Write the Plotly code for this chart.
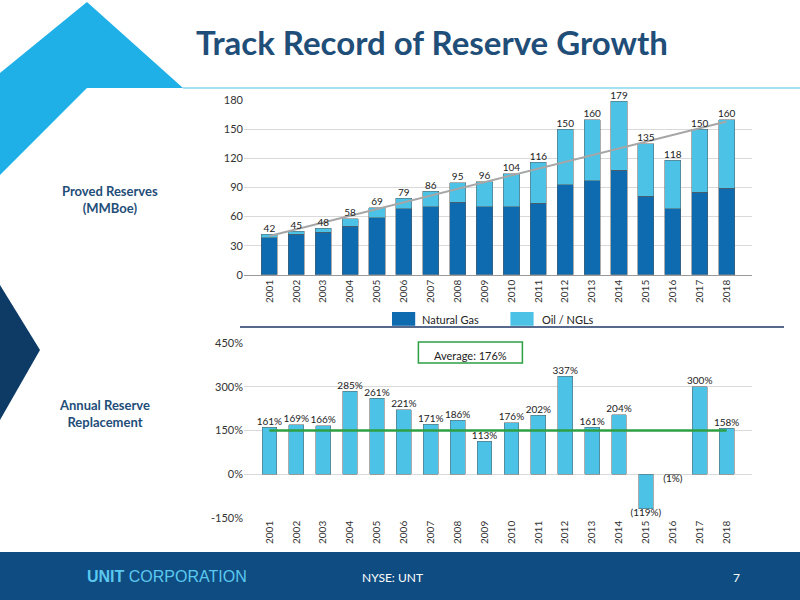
import plotly.graph_objects as go

years = [str(y) for y in range(2001, 2019)]
totals = [42, 45, 48, 58, 69, 79, 86, 95, 96, 104, 116, 150, 160, 179, 135, 118, 150, 160]
gas = [38, 42, 44, 50, 59, 68, 70, 75, 70, 70, 74, 93, 97, 108, 81, 68, 85, 89]
oil = [t - g for t, g in zip(totals, gas)]
trend_x = ["2001", "2018"]
trend_y = [40, 158]
replacement = [161, 169, 166, 285, 261, 221, 171, 186, 113, 176, 202, 337, 161, 204, -119, -1, 300, 158]
rep_labels = ["161%", "169%", "166%", "285%", "261%", "221%", "171%", "186%", "113%", "176%",
              "202%", "337%", "161%", "204%", "(119%)", "(1%)", "300%", "158%"]
avg_line = 150

DARK = "#0E6BB0"
LIGHT = "#4CC3E6"
NAVY = "#1F4E79"
FONT = "Lato"


def px_path(points):
    # pixel coords (800x600) -> paper path
    parts = [f"{x / 800:.4f} {1 - y / 600:.4f}" for x, y in points]
    return "M " + " L ".join(parts) + " Z"


def note(text, x, y, size, color, family=FONT, xanchor="center"):
    return dict(text=text, x=x / 800, y=1 - y / 600, xref="paper", yref="paper",
                xanchor=xanchor, yanchor="middle", showarrow=False, align="center",
                font=dict(size=size, color=color, family=family))


fig = go.Figure()
fig.add_trace(go.Bar(x=years, y=gas, marker_color=DARK, width=0.6,
                     marker_line=dict(color="#5a5a5a", width=0.5)))
fig.add_trace(go.Bar(x=years, y=oil, marker_color=LIGHT, width=0.6,
                     marker_line=dict(color="#5a5a5a", width=0.5)))
fig.add_trace(go.Scatter(x=trend_x, y=trend_y, mode="lines", line=dict(color="#A6A6A6", width=2),
                         hoverinfo="skip"))
fig.add_trace(go.Scatter(x=years, y=totals, mode="text", text=[str(t) for t in totals],
                         textposition="top center", cliponaxis=False,
                         textfont=dict(size=10, color="#222", family=FONT)))

fig.add_trace(go.Bar(x=years, y=replacement, marker_color=LIGHT, width=0.55,
                     marker_line=dict(color="#5a5a5a", width=0.5),
                     xaxis="x2", yaxis="y2"))
fig.add_trace(go.Scatter(x=[years[0], years[-1]], y=[avg_line, avg_line], mode="lines",
                         line=dict(color="#2EA043", width=2.5), xaxis="x2", yaxis="y2"))
fig.add_trace(go.Scatter(x=years, y=replacement, mode="text", text=rep_labels,
                         textposition=["top center" if v > 0 else "bottom center" for v in replacement],
                         cliponaxis=False, textfont=dict(size=10, color="#222", family=FONT),
                         xaxis="x2", yaxis="y2"))

fig.update_layout(
    width=800, height=600, margin=dict(l=0, r=0, t=0, b=0, autoexpand=False), showlegend=False,
    paper_bgcolor="white", plot_bgcolor="white", barmode="stack",
    font=dict(family=FONT, color="#333"),
    xaxis=dict(domain=[0.305, 0.94], anchor="y", tickangle=-90, tickfont=dict(size=10),
               showline=True, linecolor="#999", categoryorder="array", categoryarray=years,
               automargin=False),
    yaxis=dict(domain=[0.542, 0.833], range=[0, 180], tickvals=[0, 30, 60, 90, 120, 150, 180],
               gridcolor="#D9D9D9", tickfont=dict(size=11), zeroline=False, automargin=False),
    xaxis2=dict(domain=[0.305, 0.94], anchor="y2", tickangle=-90, tickfont=dict(size=10),
                type="category", categoryorder="array", categoryarray=years, automargin=False),
    yaxis2=dict(domain=[0.137, 0.428], range=[-150, 450], tickvals=[-150, 0, 150, 300, 450],
                ticktext=["-150%", "0%", "150%", "300%", "450%"], gridcolor="#D9D9D9",
                tickfont=dict(size=11), zeroline=False, automargin=False),
    shapes=[
        dict(type="path", xref="paper", yref="paper",
             path=px_path([(0, 73), (87, 2), (183, 88), (87, 88), (0, 175)]),
             fillcolor="#1FB0E8", line_width=0, layer="below"),
        dict(type="line", xref="paper", yref="paper", x0=183 / 800, x1=1, y0=1 - 88 / 600, y1=1 - 88 / 600,
             line=dict(color="#4CC3E6", width=1)),
        dict(type="path", xref="paper", yref="paper", path=px_path([(0, 285), (40, 350), (0, 420)]),
             fillcolor="#0D3B66", line_width=0, layer="below"),
        dict(type="rect", xref="paper", yref="paper", x0=0, x1=1, y0=0, y1=1 - 552 / 600,
             fillcolor="#0F4C81", line_width=0, layer="below"),
        dict(type="line", xref="paper", yref="paper", x0=0.3, x1=0.98, y0=0.455, y1=0.455,
             line=dict(color="#1F3864", width=1.5)),
        dict(type="rect", xref="paper", yref="paper", x0=0.523, x1=0.653, y0=0.395, y1=0.43,
             line=dict(color="#2EA043", width=1.5), fillcolor="white"),
        dict(type="rect", xref="paper", yref="paper", x0=0.49, x1=0.519, y0=0.457, y1=0.48,
             fillcolor=DARK, line_width=0),
        dict(type="rect", xref="paper", yref="paper", x0=0.638, x1=0.667, y0=0.457, y1=0.48,
             fillcolor=LIGHT, line_width=0),
    ],
    annotations=[
        note("<b>Track Record of Reserve Growth</b>", 432, 42, 33, "#1F4E79"),
        note("<b>Proved Reserves<br>(MMBoe)</b>", 110, 200, 13, NAVY),
        note("<b>Annual Reserve<br>Replacement</b>", 57, 414, 13, NAVY, xanchor="left"),
        note("Average: 176%", 470, 355, 11, "#222"),
        note("Natural Gas", 420, 319, 11, "#222", xanchor="left"),
        note("Oil / NGLs", 540, 319, 11, "#222", xanchor="left"),
        note("<b>UNIT</b> CORPORATION", 85, 576, 16, "#5BC8F0", family="Liberation Sans", xanchor="left"),
        note("NYSE: UNT", 392, 577, 12, "white"),
        note("7", 736, 577, 12, "white"),
    ],
)

fig.write_html("out.html", config={"displayModeBar": False},
               post_script="document.body.style.margin='0';document.body.style.overflow='hidden';")
